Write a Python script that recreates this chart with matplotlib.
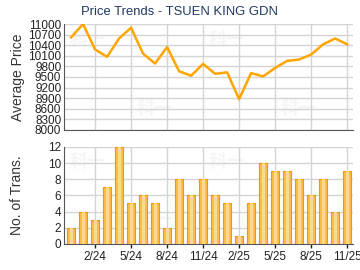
import matplotlib
matplotlib.use("Agg")
import matplotlib.pyplot as plt

plt.rcParams["font.family"] = ["Liberation Sans", "DejaVu Sans"]

# monthly data, 12/23 .. 11/25
months = ["12/23", "1/24", "2/24", "3/24", "4/24", "5/24", "6/24", "7/24",
          "8/24", "9/24", "10/24", "11/24", "12/24", "1/25", "2/25", "3/25",
          "4/25", "5/25", "6/25", "7/25", "8/25", "9/25", "10/25", "11/25"]
avg_price = [10620, 11000, 10280, 10070, 10590, 10895, 10160, 9880,
             10350, 9660, 9535, 9870, 9590, 9630, 8870, 9610,
             9515, 9755, 9955, 9995, 10135, 10425, 10590, 10425]
trans = [2, 4, 3, 7, 12, 5, 6, 5, 2, 8, 6, 8, 6, 5, 1, 5, 10, 9, 9, 8, 6, 8, 4, 9]

x = list(range(len(months)))
tick_idx = list(range(2, len(months), 3))
tick_lab = [months[i] for i in tick_idx]

fig = plt.figure(figsize=(3.6, 2.7), dpi=100)
ax1 = fig.add_axes([0.178, 0.519, 0.803, 0.392])
ax2 = fig.add_axes([0.178, 0.097, 0.803, 0.359])

for ax in (ax1, ax2):
    ax.set_xlim(-0.58, 23.5)
    ax.set_xticks(tick_idx)
    ax.grid(True, color="#d4d4d4", linewidth=1)
    ax.set_axisbelow(True)
    for s in ("top", "right"):
        ax.spines[s].set_visible(False)
    ax.spines["left"].set_color("#555555")
    ax.spines["bottom"].set_color("#555555")
    ax.tick_params(labelsize=8.5, colors="#222222", length=3, width=1)
    ax.tick_params(axis="y", length=0, pad=2)

# faint watermark
for ax, pts in ((ax1, [(0.02, 0.85), (0.5, 0.85), (0.25, 0.2), (0.75, 0.2)]),
                (ax2, [(0.02, 0.85), (0.5, 0.85), (0.25, 0.25), (0.75, 0.25)])):
    for px, py in pts:
        ax.text(px, py, "科一", transform=ax.transAxes, fontsize=13,
                family=["Noto Sans CJK SC", "DejaVu Sans"], color="#f5f5f5",
                fontweight="bold", zorder=0.5, ha="left", va="center")

ax1.plot(x, avg_price, color="#FFA500", linewidth=1.8, zorder=3)
ax1.set_ylim(8000, 11000)
ax1.set_yticks(range(8000, 11001, 300))
ax1.tick_params(axis="x", labelbottom=False, length=0)
ax1.set_ylabel("Average Price", fontsize=10, color="#333333", labelpad=2)
fig.text(0.498, 0.957, "Price Trends - TSUEN KING GDN", fontsize=9.4,
         color="#1F3864", ha="center", va="center")

ax2.bar(x, trans, width=0.72, color="#F9C04A", edgecolor="#E99B00", linewidth=0.8, zorder=3)
ax2.bar(x, trans, width=0.25, color="#FFD98A", linewidth=0, zorder=4)
ax2.set_ylim(0, 12)
ax2.set_yticks(range(0, 13, 2))
ax2.set_xticklabels(tick_lab)
ax2.tick_params(axis="x", pad=2)
ax2.set_ylabel("No. of Trans.", fontsize=10, color="#333333", labelpad=17)

fig.savefig("out.png", dpi=100)
